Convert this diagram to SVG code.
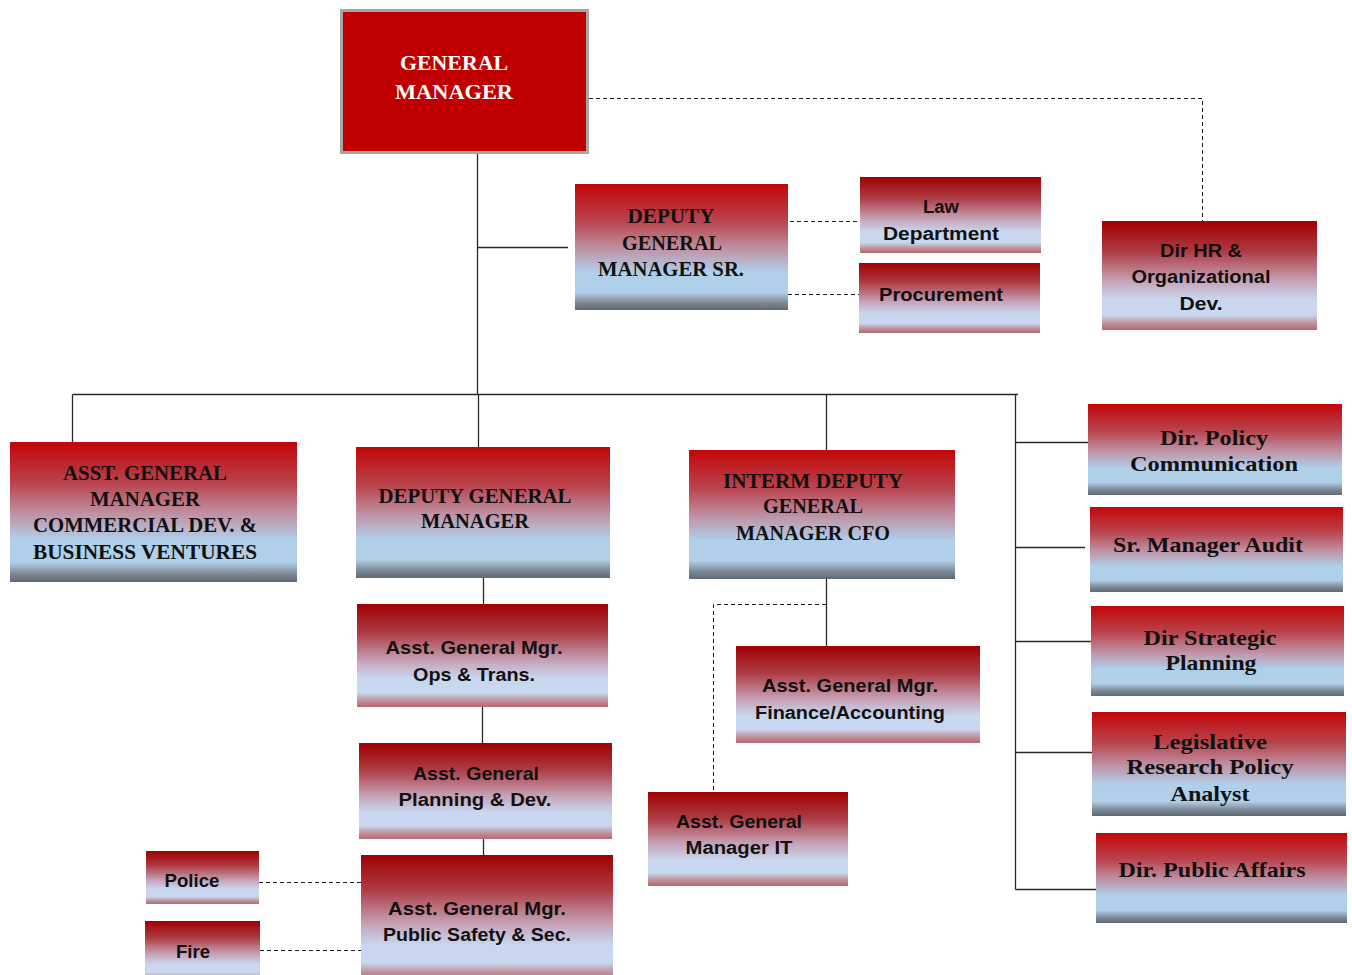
<svg xmlns="http://www.w3.org/2000/svg" width="1352" height="975" viewBox="0 0 1352 975">
<defs>
<linearGradient id="gA" x1="0" y1="0" x2="0" y2="1">
<stop offset="0" stop-color="#c20608"/>
<stop offset="0.3" stop-color="#b9454f"/>
<stop offset="0.52" stop-color="#bf94a6"/>
<stop offset="0.7" stop-color="#b0cfea"/>
<stop offset="0.86" stop-color="#b0cfe9"/>
<stop offset="0.94" stop-color="#7d8a96"/>
<stop offset="1" stop-color="#5e6a75"/>
</linearGradient>
<linearGradient id="gB" x1="0" y1="0" x2="0" y2="1">
<stop offset="0" stop-color="#a00000"/>
<stop offset="0.28" stop-color="#ad3c44"/>
<stop offset="0.55" stop-color="#c6a2b6"/>
<stop offset="0.72" stop-color="#c8d7ef"/>
<stop offset="0.86" stop-color="#c8d8f0"/>
<stop offset="0.94" stop-color="#c09098"/>
<stop offset="1" stop-color="#b46a70"/>
</linearGradient>
<style>
.a{fill:url(#gA)}
.b{fill:url(#gB)}
.s{font-family:"Liberation Serif","Times New Roman",serif;font-weight:bold;font-size:21px;fill:#111;text-anchor:middle}
.n{font-family:"Liberation Sans",Arial,sans-serif;font-weight:bold;font-size:18px;fill:#111;text-anchor:middle}
.w{font-family:"Liberation Serif","Times New Roman",serif;font-weight:bold;font-size:22px;fill:#fff;text-anchor:middle}
.c{fill:none;stroke:#2a2a2a;stroke-width:1.3}
.d{fill:none;stroke:#1a1a1a;stroke-width:1;stroke-dasharray:4 3}
</style>
</defs>
<rect width="1352" height="975" fill="#fff"/>
<g id="connectors">
<path class="c" d="M477.5,154 V394.5 M477.5,247.5 H568 M72.5,394.5 H1018 M72.5,394.5 V442 M478.5,394.5 V447 M826.5,394.5 V450 M1015.5,394.5 V889.5 M1015.5,442.5 H1088 M1015.5,547.5 H1085 M1015.5,641.5 H1091 M1015.5,752.5 H1092 M1015.5,889.5 H1096 M483.5,578 V604 M482.5,707 V743 M483.5,839 V855 M826.5,579 V646"/>
<path class="d" d="M589,98.5 H1202.5 V221 M790,221.5 H860 M788,294.5 H859 M826,604.5 H713.5 V792 M259,882.5 H361 M260,950.5 H361"/>
</g>
<g id="gm">
<rect x="341.5" y="10.5" width="246" height="142" fill="#c00000" stroke="#a6a6a6" stroke-width="3"/>
<text class="w" x="454" y="70" textLength="108" lengthAdjust="spacingAndGlyphs">GENERAL</text>
<text class="w" x="454" y="99" textLength="118" lengthAdjust="spacingAndGlyphs">MANAGER</text>
</g>
<g id="dgm-sr">
<rect class="a" x="575" y="184" width="213" height="126"/>
<text class="s" x="671" y="223" textLength="87" lengthAdjust="spacingAndGlyphs">DEPUTY</text>
<text class="s" x="672" y="250" textLength="100" lengthAdjust="spacingAndGlyphs">GENERAL</text>
<text class="s" x="671" y="276" textLength="146" lengthAdjust="spacingAndGlyphs">MANAGER SR.</text>
</g>
<g id="law">
<rect class="b" x="860" y="177" width="181" height="76"/>
<text class="n" x="941" y="213" textLength="36" lengthAdjust="spacingAndGlyphs">Law</text>
<text class="n" x="941" y="240" textLength="116" lengthAdjust="spacingAndGlyphs">Department</text>
</g>
<g id="procurement">
<rect class="b" x="859" y="263" width="181" height="70"/>
<text class="n" x="941" y="301" textLength="124" lengthAdjust="spacingAndGlyphs">Procurement</text>
</g>
<g id="hr">
<rect class="b" x="1102" y="221" width="215" height="109"/>
<text class="n" x="1201" y="257" textLength="82" lengthAdjust="spacingAndGlyphs">Dir HR &amp;</text>
<text class="n" x="1201" y="283" textLength="139" lengthAdjust="spacingAndGlyphs">Organizational</text>
<text class="n" x="1201" y="310" textLength="43" lengthAdjust="spacingAndGlyphs">Dev.</text>
</g>
<g id="agm-commercial">
<rect class="a" x="10" y="442" width="287" height="140"/>
<text class="s" x="145" y="480" textLength="164" lengthAdjust="spacingAndGlyphs">ASST. GENERAL</text>
<text class="s" x="145" y="506" textLength="110" lengthAdjust="spacingAndGlyphs">MANAGER</text>
<text class="s" x="145" y="532" textLength="224" lengthAdjust="spacingAndGlyphs">COMMERCIAL DEV. &amp;</text>
<text class="s" x="145" y="559" textLength="224" lengthAdjust="spacingAndGlyphs">BUSINESS VENTURES</text>
</g>
<g id="dgm">
<rect class="a" x="356" y="447" width="254" height="131"/>
<text class="s" x="475" y="503" textLength="193" lengthAdjust="spacingAndGlyphs">DEPUTY GENERAL</text>
<text class="s" x="475" y="528" textLength="108" lengthAdjust="spacingAndGlyphs">MANAGER</text>
</g>
<g id="ops">
<rect class="b" x="357" y="604" width="251" height="103"/>
<text class="n" x="474" y="654" textLength="177" lengthAdjust="spacingAndGlyphs">Asst. General Mgr.</text>
<text class="n" x="474" y="681" textLength="122" lengthAdjust="spacingAndGlyphs">Ops &amp; Trans.</text>
</g>
<g id="planning">
<rect class="b" x="359" y="743" width="253" height="96"/>
<text class="n" x="476" y="780" textLength="126" lengthAdjust="spacingAndGlyphs">Asst. General</text>
<text class="n" x="475" y="806" textLength="153" lengthAdjust="spacingAndGlyphs">Planning &amp; Dev.</text>
</g>
<g id="public-safety">
<rect class="b" x="361" y="855" width="252" height="125"/>
<text class="n" x="477" y="915" textLength="178" lengthAdjust="spacingAndGlyphs">Asst. General Mgr.</text>
<text class="n" x="477" y="941" textLength="188" lengthAdjust="spacingAndGlyphs">Public Safety &amp; Sec.</text>
</g>
<g id="police">
<rect class="b" x="146" y="851" width="113" height="53"/>
<text class="n" x="192" y="887" textLength="55" lengthAdjust="spacingAndGlyphs">Police</text>
</g>
<g id="fire">
<rect class="b" x="145" y="921" width="115" height="60"/>
<text class="n" x="193" y="958" textLength="34" lengthAdjust="spacingAndGlyphs">Fire</text>
</g>
<g id="cfo">
<rect class="a" x="689" y="450" width="266" height="129"/>
<text class="s" x="813" y="488" textLength="180" lengthAdjust="spacingAndGlyphs">INTERM DEPUTY</text>
<text class="s" x="813" y="513" textLength="100" lengthAdjust="spacingAndGlyphs">GENERAL</text>
<text class="s" x="813" y="540" textLength="154" lengthAdjust="spacingAndGlyphs">MANAGER CFO</text>
</g>
<g id="finance">
<rect class="b" x="736" y="646" width="244" height="97"/>
<text class="n" x="850" y="692" textLength="176" lengthAdjust="spacingAndGlyphs">Asst. General Mgr.</text>
<text class="n" x="850" y="719" textLength="190" lengthAdjust="spacingAndGlyphs">Finance/Accounting</text>
</g>
<g id="it">
<rect class="b" x="648" y="792" width="200" height="94"/>
<text class="n" x="739" y="828" textLength="126" lengthAdjust="spacingAndGlyphs">Asst. General</text>
<text class="n" x="739" y="854" textLength="107" lengthAdjust="spacingAndGlyphs">Manager IT</text>
</g>
<g id="policy-comm">
<rect class="a" x="1088" y="404" width="254" height="91"/>
<text class="s" x="1214" y="445" textLength="108" lengthAdjust="spacingAndGlyphs">Dir. Policy</text>
<text class="s" x="1214" y="471" textLength="168" lengthAdjust="spacingAndGlyphs">Communication</text>
</g>
<g id="audit">
<rect class="a" x="1090" y="507" width="253" height="85"/>
<text class="s" x="1208" y="552" textLength="190" lengthAdjust="spacingAndGlyphs">Sr. Manager Audit</text>
</g>
<g id="strategic">
<rect class="a" x="1091" y="606" width="253" height="90"/>
<text class="s" x="1210" y="645" textLength="133" lengthAdjust="spacingAndGlyphs">Dir Strategic</text>
<text class="s" x="1211" y="670" textLength="91" lengthAdjust="spacingAndGlyphs">Planning</text>
</g>
<g id="legislative">
<rect class="a" x="1092" y="712" width="254" height="104"/>
<text class="s" x="1210" y="749" textLength="114" lengthAdjust="spacingAndGlyphs">Legislative</text>
<text class="s" x="1210" y="774" textLength="167" lengthAdjust="spacingAndGlyphs">Research Policy</text>
<text class="s" x="1210" y="801" textLength="79" lengthAdjust="spacingAndGlyphs">Analyst</text>
</g>
<g id="public-affairs">
<rect class="a" x="1096" y="833" width="251" height="90"/>
<text class="s" x="1212" y="877" textLength="187" lengthAdjust="spacingAndGlyphs">Dir. Public Affairs</text>
</g>
</svg>
